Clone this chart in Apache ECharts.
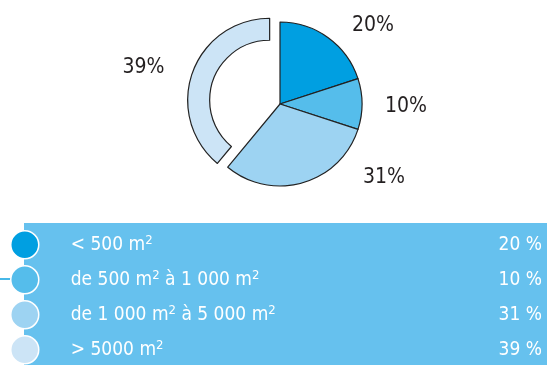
<!DOCTYPE html>
<html>
<head>
<meta charset="utf-8">
<script src="https://cdn.jsdelivr.net/npm/echarts@6/dist/echarts.min.js"></script>
<style>
  html, body { margin: 0; padding: 0; background: #fff; }
  #chart { width: 547px; height: 365px; }
</style>
</head>
<body>
<div id="chart"></div>
<script>
// data
var categories = ['< 500 m2', 'de 500 m2 à 1 000 m2', 'de 1 000 m2 à 5 000 m2', '> 5000 m2'];
var shares = [20, 10, 31, 39];
var colors = ['#009fe1', '#55bdeb', '#9dd3f2', '#cce4f6'];

// label spots beside the pie (layout only)
var labelPos = [[373, 26], [406, 107], [384, 178], [131, 84]];

var FONT = "'DejaVu Sans Condensed', sans-serif";

var myChart = echarts.init(document.getElementById('chart'), null, { renderer: 'canvas' });

// legend text with raised "2"
function fmtName(name) {
    return name.replace(/m2/g, 'm{s|2}');
}

var pieData = categories.map(function (name, i) {
    var item = { name: name, value: shares[i], itemStyle: { color: colors[i] } };
    if (i === 3) {
        item.itemStyle = { color: 'rgba(0,0,0,0)', borderWidth: 0 };
        item.label = { show: false };
    }
    return item;
});

var ringData = categories.map(function (name, i) {
    var item = { name: name, value: shares[i] };
    if (i === 3) {
        item.itemStyle = { color: colors[i] };
        item.selected = true;
    } else {
        item.itemStyle = { color: 'rgba(0,0,0,0)', borderWidth: 0 };
        item.label = { show: false };
    }
    return item;
});

function layoutLabel(params) {
    var p = labelPos[params.dataIndex];
    return { x: p[0], y: p[1], align: 'center', verticalAlign: 'middle' };
}

var option = {
    animation: false,
    graphic: [
        {
            type: 'rect',
            z: 0,
            shape: { x: 24, y: 223, width: 523, height: 142 },
            style: { fill: '#66c1ee' }
        },
        {
            type: 'line',
            z: 0,
            shape: { x1: 0, y1: 279, x2: 12, y2: 279 },
            style: { stroke: '#0aa0e0', lineWidth: 1.5 }
        }
    ],
    legend: [
        {
            orient: 'vertical',
            left: 10,
            top: 230,
            height: 200,
            padding: 0,
            itemWidth: 28,
            itemHeight: 28,
            itemGap: 5.5,
            icon: 'circle',
            selectedMode: false,
            data: categories.map(function (name, i) {
                return { name: name, itemStyle: { color: colors[i], borderColor: '#fff', borderWidth: 1.5 } };
            }),
            formatter: fmtName,
            textStyle: {
                color: '#fff',
                fontFamily: FONT,
                fontSize: 19,
                lineHeight: 28,
                padding: [0, 0, 0, 27],
                rich: {
                    s: { color: '#fff', fontFamily: FONT, fontSize: 13, lineHeight: 28, padding: [0, 0, 9, 0] }
                }
            }
        },
        {
            orient: 'vertical',
            right: 5,
            top: 231,
            height: 200,
            padding: 0,
            itemWidth: 0,
            itemHeight: 28,
            itemGap: 7,
            icon: 'none',
            selectedMode: false,
            data: categories,
            formatter: function (name) {
                return shares[categories.indexOf(name)] + ' %';
            },
            textStyle: { color: '#fff', fontFamily: FONT, fontSize: 19, lineHeight: 28 }
        }
    ],
    series: [
        {
            name: 'surface',
            type: 'pie',
            center: [280, 104],
            radius: [0, 82],
            startAngle: 90,
            silent: true,
            itemStyle: { borderColor: '#222', borderWidth: 1.2 },
            emphasis: { disabled: true },
            label: {
                show: true,
                formatter: '{c}%',
                color: '#231f20',
                fontFamily: FONT,
                fontSize: 21
            },
            labelLine: { show: false },
            labelLayout: layoutLabel,
            data: pieData
        },
        {
            name: 'surface ring',
            type: 'pie',
            center: [280, 104],
            radius: [60, 82],
            startAngle: 90,
            silent: true,
            selectedMode: 'single',
            selectedOffset: 11,
            itemStyle: { borderColor: '#222', borderWidth: 1.2 },
            emphasis: { disabled: true },
            label: {
                show: true,
                formatter: '{c}%',
                color: '#231f20',
                fontFamily: FONT,
                fontSize: 21
            },
            labelLine: { show: false },
            labelLayout: layoutLabel,
            data: ringData
        }
    ]
};

myChart.setOption(option);
</script>
</body>
</html>
